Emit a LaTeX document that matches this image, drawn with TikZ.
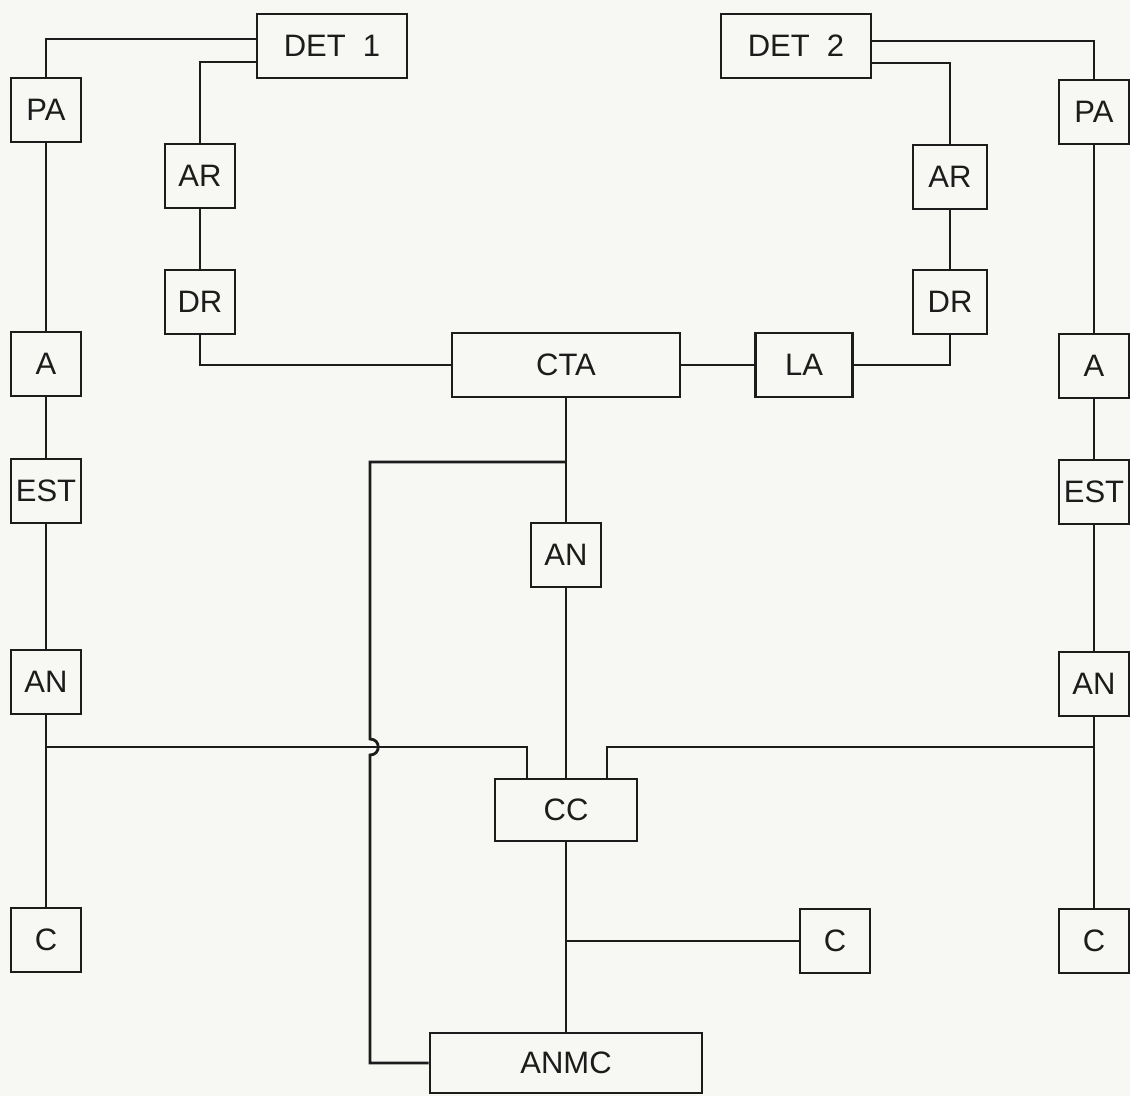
\documentclass[tikz,border=0pt]{standalone}
\usepackage{fontspec}
\setmainfont{Liberation Sans}
\usepackage{tikz}
\definecolor{paper}{RGB}{247,247,243}
\definecolor{ink}{RGB}{28,28,28}
\tikzset{
  blk/.style={draw=ink, line width=2.8pt, minimum width=70pt, minimum height=64pt,
    inner sep=0pt, text=ink, font=\fontsize{31}{33}\selectfont},
  wire/.style={draw=ink, line width=2.8pt},
}

\begin{document}
\begin{tikzpicture}[x=1pt, y=-1pt]
	\def\cl{46}
	\def\cr{1094}
	\def\cm{566}

	\fill[paper] (0,0) rectangle (1130,1096);
	\useasboundingbox (0,0) rectangle (1130,1096);

	% top row
	\node[blk, minimum width=150pt] (det1) at (332,46) {DET\ \ 1};
	\node[blk, minimum width=150pt] (det2) at (796,46) {DET\ \ 2};

	% left column
	\node[blk] (paL)  at (\cl,110) {PA};
	\node[blk] (aL)   at (\cl,364) {A};
	\node[blk] (estL) at (\cl,491) {EST};
	\node[blk] (anL)  at (\cl,682) {AN};
	\node[blk] (cL)   at (\cl,940) {C};

	% right column
	\node[blk] (paR)  at (\cr,112) {PA};
	\node[blk] (aR)   at (\cr,366) {A};
	\node[blk] (estR) at (\cr,492) {EST};
	\node[blk] (anR)  at (\cr,684) {AN};
	\node[blk] (cR)   at (\cr,941) {C};

	% receivers
	\node[blk] (arL) at (200,176) {AR};
	\node[blk] (drL) at (200,302) {DR};
	\node[blk, minimum width=74pt] (arR) at (950,177) {AR};
	\node[blk, minimum width=74pt] (drR) at (950,302) {DR};

	% centre
	\node[blk, minimum width=228pt] (cta)  at (\cm,365) {CTA};
	\node[blk, minimum width=97pt]  (la)   at (804,365) {LA};
	\node[blk] (anC) at (\cm,555) {AN};
	\node[blk, minimum width=142pt, minimum height=62pt] (cc) at (\cm,810) {CC};
	\node[blk] (cMid) at (835,941) {C};
	\node[blk, minimum width=272pt, minimum height=60pt] (anmc) at (\cm,1063) {ANMC};

	\coordinate (busL) at (\cl,747);
	\coordinate (busR) at (\cr,747);
	\coordinate (tapA) at (\cm,462);
	\coordinate (tapC) at (\cm,941);
	\coordinate (jmp)  at (370,747);

	\draw[wire] ([yshift=7pt]det1.west) -| (paL.north);
	\draw[wire] ([yshift=-16pt]det1.west) -| (arL.north);
	\draw[wire] (arL) -- (drL);
	\draw[wire] (drL.south) |- (cta.west);
	\draw[wire] (cta) -- (la);
	\draw[wire] (la.east) -| (drR.south);
	\draw[wire] (drR) -- (arR);
	\draw[wire] (arR.north) |- ([yshift=-17pt]det2.east);
	\draw[wire] ([yshift=5pt]det2.east) -| (paR.north);

	\draw[wire] (paL) -- (aL) -- (estL) -- (anL) -- (cL);
	\draw[wire] (paR) -- (aR) -- (estR) -- (anR) -- (cR);

	\draw[wire] (cta) -- (anC) -- (cc);
	\draw[wire] (cc) -- (anmc);
	\draw[wire] (tapC) -- (cMid.west);

	\draw[wire] (busL) -| ([xshift=-39pt]cc.north);
	\draw[wire] (busR) -| ([xshift=41pt]cc.north);

	% line over the bus
	\draw[wire] (tapA) -| ([yshift=8pt]jmp)
		.. controls +(11pt,0) and +(11pt,0) .. ([yshift=-8pt]jmp) |- (anmc.west);

\end{tikzpicture}
\end{document}
